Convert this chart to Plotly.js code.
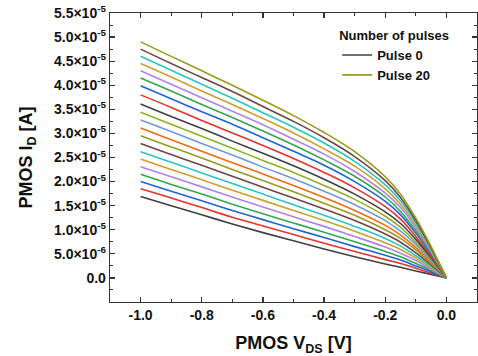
<!DOCTYPE html>
<html>
<head>
<meta charset="utf-8">
<script src="https://cdn.plot.ly/plotly-3.0.1.min.js"></script>
<style>html,body{margin:0;padding:0;background:#fff;}#chart{width:478px;height:356px;}</style>
</head>
<body>
<div id="chart"></div>
<script>
// Drain-source voltage samples [V]
const vds = [-1.0, -0.9, -0.8, -0.7, -0.6, -0.5, -0.4, -0.3, -0.2, -0.15, -0.1, -0.05, 0.0];
// Drain current per pulse, in units of 1e-5 A
const SCALE = 1e-5;
const p0  = [1.69,1.50,1.31,1.12,0.94,0.77,0.60,0.44,0.29,0.22,0.145,0.073,0];
const p1  = [1.85,1.66,1.46,1.26,1.08,0.90,0.72,0.55,0.38,0.30,0.20,0.10,0];
const p2  = [2.00,1.80,1.60,1.40,1.21,1.02,0.84,0.65,0.47,0.37,0.25,0.13,0];
const p3  = [2.15,1.94,1.74,1.53,1.33,1.14,0.95,0.75,0.55,0.44,0.30,0.16,0];
const p4  = [2.31,2.10,1.89,1.68,1.47,1.27,1.07,0.86,0.64,0.51,0.36,0.18,0];
const p5  = [2.47,2.25,2.04,1.82,1.61,1.40,1.19,0.97,0.73,0.59,0.41,0.21,0];
const p6  = [2.62,2.40,2.18,1.96,1.74,1.52,1.30,1.07,0.82,0.66,0.46,0.24,0];
const p7  = [2.79,2.56,2.34,2.11,1.88,1.66,1.43,1.19,0.91,0.74,0.52,0.27,0];
const p8  = [2.95,2.72,2.49,2.25,2.02,1.79,1.55,1.30,1.00,0.82,0.58,0.30,0];
const p9  = [3.11,2.87,2.63,2.39,2.16,1.92,1.67,1.40,1.09,0.89,0.63,0.33,0];
const p10 = [3.28,3.04,2.79,2.55,2.30,2.06,1.80,1.52,1.19,0.97,0.69,0.36,0];
const p11 = [3.44,3.19,2.94,2.69,2.44,2.19,1.92,1.63,1.28,1.05,0.74,0.39,0];
const p12 = [3.61,3.35,3.10,2.84,2.59,2.33,2.05,1.74,1.37,1.13,0.80,0.42,0];
const p13 = [3.80,3.54,3.27,3.01,2.75,2.48,2.19,1.87,1.48,1.22,0.86,0.45,0];
const p14 = [3.99,3.72,3.45,3.19,2.91,2.63,2.34,2.00,1.59,1.31,0.93,0.49,0];
const p15 = [4.15,3.88,3.60,3.33,3.05,2.76,2.45,2.11,1.68,1.38,0.98,0.52,0];
const p16 = [4.30,4.02,3.74,3.46,3.18,2.88,2.57,2.21,1.76,1.46,1.04,0.54,0];
const p17 = [4.45,4.17,3.88,3.60,3.31,3.01,2.68,2.32,1.85,1.53,1.09,0.57,0];
const p18 = [4.60,4.31,4.02,3.73,3.43,3.13,2.80,2.42,1.93,1.60,1.14,0.60,0];
const p19 = [4.75,4.45,4.16,3.87,3.56,3.25,2.91,2.52,2.02,1.67,1.19,0.62,0];
const p20 = [4.90,4.60,4.30,4.00,3.69,3.37,3.02,2.62,2.10,1.74,1.24,0.65,0];
const pulses = [p0,p1,p2,p3,p4,p5,p6,p7,p8,p9,p10,p11,p12,p13,p14,p15,p16,p17,p18,p19,p20];
const palette = ['#404040','#e8322e','#1f63d6','#34a64f','#b084e6','#c9a12a','#26c6c6','#6b4646','#9a9a1c','#f26a14','#6f9ad8','#8cb220'];

const xTickVals = [-1.0, -0.8, -0.6, -0.4, -0.2, 0.0];
const xTickText = ['-1.0', '-0.8', '-0.6', '-0.4', '-0.2', '0.0'];
const yTickVals = [0, 5e-6, 1e-5, 1.5e-5, 2e-5, 2.5e-5, 3e-5, 3.5e-5, 4e-5, 4.5e-5, 5e-5, 5.5e-5];
const yTickText = ['0.0', '5.0×10<sup>-6</sup>', '1.0×10<sup>-5</sup>', '1.5×10<sup>-5</sup>', '2.0×10<sup>-5</sup>',
  '2.5×10<sup>-5</sup>', '3.0×10<sup>-5</sup>', '3.5×10<sup>-5</sup>', '4.0×10<sup>-5</sup>', '4.5×10<sup>-5</sup>',
  '5.0×10<sup>-5</sup>', '5.5×10<sup>-5</sup>'];

const FONT = 'Liberation Sans, Arial, sans-serif';
const traces = pulses.map((p, k) => ({
  x: vds,
  y: p.map(v => v * SCALE),
  type: 'scatter',
  mode: 'lines',
  name: 'Pulse ' + k,
  showlegend: (k === 0 || k === 20),
  line: {color: palette[k % palette.length], width: 1.6, shape: 'spline', smoothing: 1}
}));

const axisCommon = {
  showline: true, linecolor: '#333', linewidth: 1.3, mirror: 'allticks',
  ticks: 'inside', ticklen: 5, tickwidth: 1.2, tickcolor: '#333',
  showgrid: false, zeroline: false,
  tickfont: {family: FONT, size: 14, color: '#111', weight: 'bold'}
};

const layout = {
  width: 478, height: 356,
  margin: {l: 110, r: 1, t: 13, b: 54},
  paper_bgcolor: '#fff', plot_bgcolor: '#fff',
  font: {family: FONT, color: '#111'},
  xaxis: Object.assign({}, axisCommon, {
    range: [-1.1, 0.1],
    tickmode: 'array', tickvals: xTickVals, ticktext: xTickText,
    minor: {tickmode: 'linear', tick0: 0, dtick: 0.1, ticks: 'inside', ticklen: 3, tickcolor: '#333', tickwidth: 1},
    title: {text: 'PMOS V<sub>DS</sub> [V]', font: {family: FONT, size: 18, weight: 'bold', color: '#111'}, standoff: 16}
  }),
  yaxis: Object.assign({}, axisCommon, {
    range: [-5e-6, 5.5e-5],
    tickmode: 'array', tickvals: yTickVals, ticktext: yTickText,
    minor: {tickmode: 'linear', tick0: 0, dtick: 2.5e-6, ticks: 'inside', ticklen: 3, tickcolor: '#333', tickwidth: 1},
    title: {text: 'PMOS I<sub>D</sub> [A]', font: {family: FONT, size: 18, weight: 'bold', color: '#111'}, standoff: 16}
  }),
  legend: {
    x: 0.619, y: 0.965, xanchor: 'left', yanchor: 'top',
    bgcolor: 'rgba(0,0,0,0)', borderwidth: 0,
    font: {family: FONT, size: 13, weight: 'bold', color: '#111'},
    title: {text: 'Number of pulses', font: {family: FONT, size: 13, weight: 'bold', color: '#111'}},
    tracegroupgap: 0
  }
};

Plotly.newPlot('chart', traces, layout, {staticPlot: true, displayModeBar: false});
</script>
</body>
</html>
